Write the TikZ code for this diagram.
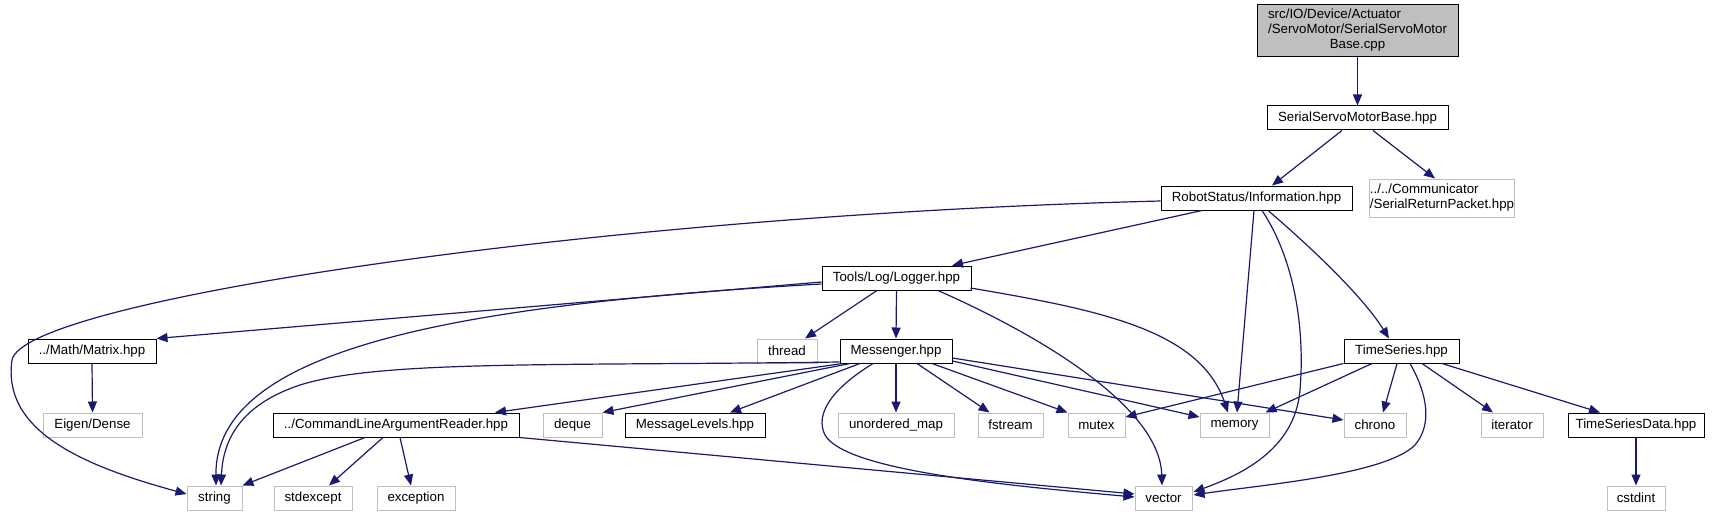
\documentclass[tikz,border=0pt]{standalone}
\usepackage{fontspec}
\setmainfont{Liberation Sans}
\usetikzlibrary{arrows.meta,calc}
\definecolor{edgeblue}{HTML}{191970}
\definecolor{extgray}{HTML}{BFBFBF}
\newcommand{\fnt}{\fontsize{13.3}{15}\selectfont}
\begin{document}
\begin{tikzpicture}[x=1pt,y=-1pt,
  doc/.style={draw=black, fill=white, line width=1pt, minimum height=24pt, inner sep=0pt, font=\fnt},
  ext/.style={doc, draw=extgray},
  dep/.style={draw=edgeblue, line width=1.2pt, -{Triangle[length=11pt,width=9pt]}}]
\useasboundingbox (0,0) rectangle (1715,516);
% row 0
\node[doc, fill=extgray, minimum width=201pt, minimum height=52pt] (root) at (1357.5,31)
  {\begin{tabular}{@{}l@{}}src/IO/Device/Actuator\\/ServoMotor/SerialServoMotor\\\multicolumn{1}{@{}c@{}}{Base.cpp}\end{tabular}};
% row 1
\node[doc, minimum width=181pt] (ssmb) at (1357.5,118) {SerialServoMotorBase.hpp};
% row 2
\node[doc, minimum width=191pt] (info) at (1256.5,198) {RobotStatus/Information.hpp};
\node[ext, minimum width=134pt, minimum height=38pt] (comm) at (1442,198)
  {\begin{tabular}{@{}l@{}}../../Communicator\\/SerialReturnPacket.hpp\end{tabular}};
% row 3
\node[doc, minimum width=149pt] (logger) at (896.5,278) {Tools/Log/Logger.hpp};
% row 4
\node[doc, minimum width=128pt] (matrix) at (92,351) {../Math/Matrix.hpp};
\node[ext, minimum width=60pt] (thread) at (787,351) {thread};
\node[doc, minimum width=112pt] (messenger) at (896,351) {Messenger.hpp};
\node[doc, minimum width=115pt] (timeseries) at (1401.5,351) {TimeSeries.hpp};
% row 5
\node[ext, minimum width=99pt] (eigen) at (92.5,425) {Eigen/Dense};
\node[doc, minimum width=246pt] (clar) at (396,425) {../CommandLineArgumentReader.hpp};
\node[ext, minimum width=59pt] (deque) at (572.5,425) {deque};
\node[doc, minimum width=140pt] (msglevels) at (695,425) {MessageLevels.hpp};
\node[ext, minimum width=116pt] (umap) at (896,425) {unordered\_map};
\node[ext, minimum width=65pt] (fstream) at (1010.5,425) {fstream};
\node[ext, minimum width=57pt] (mutex) at (1096.5,425) {mutex};
\node[ext, minimum width=69pt] (memory) at (1234.5,425) {memory};
\node[ext, minimum width=62pt] (chrono) at (1375,425) {chrono};
\node[ext, minimum width=62pt] (iterator) at (1512,425) {iterator};
\node[doc, minimum width=136pt] (tsdata) at (1636,425) {TimeSeriesData.hpp};
% row 6
\node[ext, minimum width=55pt] (string) at (214.5,498) {string};
\node[ext, minimum width=78pt] (stdexcept) at (313,498) {stdexcept};
\node[ext, minimum width=78pt] (exception) at (416,498) {exception};
\node[ext, minimum width=57pt] (vector) at (1163.5,498) {vector};
\node[ext, minimum width=58pt] (cstdint) at (1636,498) {cstdint};
% edges
\draw[dep] (root.south) -- (ssmb.north);
\draw[dep] ($(ssmb.south)+(-15.5,0)$) -- ($(info.north)+(15.5,0)$);
\draw[dep] ($(ssmb.south)+(15.5,0)$) -- ($(comm.north)+(-7,0)$);
\draw[dep] ($(info.west)+(0,3)$) .. controls (600,215) and (24,300) .. (12,360)
  .. controls (2,430) and (80,465) .. ($(string.west)+(0,-4)$);
\draw[dep] ($(info.south)+(-54.5,0)$) -- ($(logger.north)+(55.5,0)$);
\draw[dep] ($(info.south)+(-2.5,0)$) -- ($(memory.north)+(2.5,0)$);
\draw[dep] ($(info.south)+(5.5,0)$) .. controls (1295,260) and (1305,330) .. (1300,390)
  .. controls (1295,450) and (1240,475) .. ($(vector.east)+(1,-6)$);
\draw[dep] ($(info.south)+(11.5,0)$) .. controls (1320,255) and (1365,300) .. ($(timeseries.north)+(-12.5,0)$);
\draw[dep] ($(logger.west)+(0,4)$) -- (matrix.north east);
\draw[dep] ($(logger.west)+(0,6)$) .. controls (450,305) and (215,350) .. ($(string.north)+(1.5,0)$);
\draw[dep] ($(logger.south)+(-19.5,0)$) -- ($(thread.north)+(18,0)$);
\draw[dep] (logger.south) -- (messenger.north);
\draw[dep] ($(logger.south)+(41.5,0)$) .. controls (1050,340) and (1160,410) .. ($(vector.north)+(-1.5,0)$);
\draw[dep] ($(logger.east)+(-1,10)$) .. controls (1100,310) and (1200,330) .. ($(memory.north)+(-6.5,0)$);
\draw[dep] (matrix.south) -- (eigen.north);
\draw[dep] ($(messenger.west)+(0,11)$) .. controls (550,366) and (380,360) .. (300,385)
  .. controls (240,405) and (223,440) .. ($(string.north)+(6.5,0)$);
\draw[dep] ($(messenger.south)+(-53,0)$) -- ($(clar.north)+(99,0)$);
\draw[dep] ($(messenger.south)+(-46,0)$) -- (deque.north east);
\draw[dep] ($(messenger.south)+(-36,0)$) -- ($(msglevels.north)+(35,0)$);
\draw[dep] ($(messenger.south)+(-23,0)$) .. controls (830,390) and (815,415) .. (825,435)
  .. controls (845,470) and (1000,485) .. ($(vector.west)+(0,-1)$);
\draw[dep] (messenger.south) -- (umap.north);
\draw[dep] ($(messenger.south)+(21,0)$) -- ($(fstream.north)+(-21,0)$);
\draw[dep] ($(messenger.south)+(36,0)$) -- (mutex.north west);
\draw[dep] ($(messenger.east)+(0,10)$) -- ($(memory.west)+(0,-8)$);
\draw[dep] ($(messenger.east)+(0,7)$) -- ($(chrono.west)+(0,-5)$);
\draw[dep] (timeseries.south west) -- ($(mutex.east)+(0,-8)$);
\draw[dep] ($(timeseries.south)+(-29.5,0)$) -- ($(memory.north east)+(-4,0)$);
\draw[dep] ($(timeseries.south)+(-4.5,0)$) -- ($(chrono.north)+(8,0)$);
\draw[dep] ($(timeseries.south)+(8.5,0)$) .. controls (1428,395) and (1432,425) .. (1415,445)
  .. controls (1385,475) and (1260,485) .. ($(vector.east)+(1,-3)$);
\draw[dep] ($(timeseries.south)+(20.5,0)$) -- ($(iterator.north)+(-19,0)$);
\draw[dep] ($(timeseries.south)+(40.5,0)$) -- ($(tsdata.north)+(-36,0)$);
\draw[dep] ($(clar.south)+(-31,0)$) -- (string.north east);
\draw[dep] ($(clar.south)+(-13,0)$) -- ($(stdexcept.north)+(16,0)$);
\draw[dep] ($(clar.south)+(4,0)$) -- ($(exception.north)+(-5,0)$);
\draw[dep] (clar.south east) -- ($(vector.west)+(0,-4)$);
\draw[dep] (tsdata.south) -- (cstdint.north);
\end{tikzpicture}
\end{document}
